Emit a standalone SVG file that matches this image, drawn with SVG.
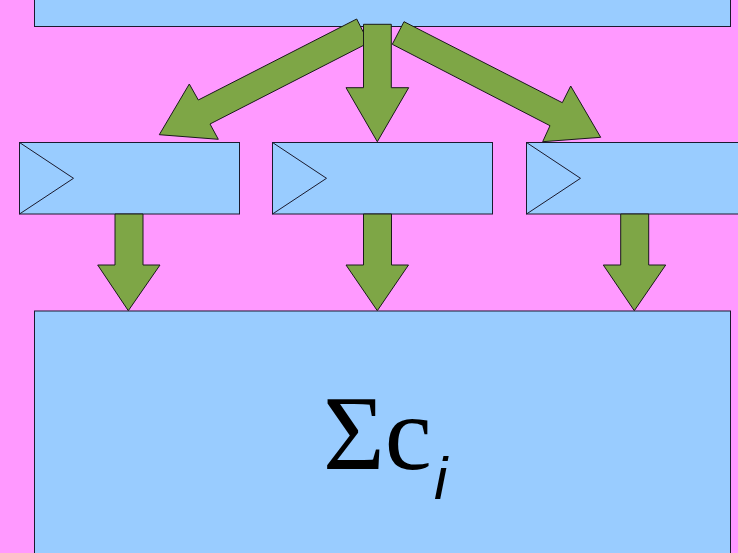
<svg xmlns="http://www.w3.org/2000/svg" width="738" height="553" viewBox="0 0 738 553">
<style>
.box{fill:#99ccff;stroke:#1a1a2e;stroke-width:1}
.tri{fill:none;stroke:#1a1a2e;stroke-width:1}
.arr{fill:#7ea646;stroke:#1a1a1a;stroke-width:1;stroke-linejoin:miter}
.sig{font-family:"Liberation Serif","Times New Roman",serif;fill:#000}
.sub{font-family:"Liberation Sans",Arial,sans-serif;font-style:italic}
</style>
<rect x="0" y="0" width="738" height="553" fill="#ff99ff"/>
<g id="top">
<rect class="box" x="34.5" y="-5" width="696" height="31.5"/>
</g>
<g id="box1">
<rect class="box" x="19.5" y="142.5" width="220" height="71.5"/>
<polyline class="tri" points="19.5,142.5 73.5,178.3 19.5,214"/>
</g>
<g id="box2">
<rect class="box" x="272.5" y="142.5" width="220" height="71.5"/>
<polyline class="tri" points="272.5,142.5 326.5,178.3 272.5,214"/>
</g>
<g id="box3">
<rect class="box" x="526.5" y="142.5" width="220" height="71.5"/>
<polyline class="tri" points="526.5,142.5 580.5,178.3 526.5,214"/>
</g>
<g id="bottom">
<rect class="box" x="34.5" y="311" width="696" height="250"/>
<text class="sig" x="323" y="469" font-size="106">Σc<tspan class="sub" x="434" y="499" font-size="60">i</tspan></text>
</g>
<g id="connectors">
<polygon class="arr" points="356.7,19 368.7,42.7 210,124 218.3,139.3 159.3,134.7 189.3,84 198.3,100"/>
<polygon class="arr" points="363.5,24.3 391.3,24.3 391.3,87.7 408.7,87.7 377.3,141.7 346,87.7 363.5,87.7"/>
<polygon class="arr" points="404,21.7 392.3,44.3 550,125.7 542.7,141.7 600.7,137.3 570.7,86 562.3,102.7"/>
<polygon class="arr" points="115,214 143,214 143,265 160,265 128.3,310.7 97.7,265 115,265"/>
<polygon class="arr" points="363.5,214 391.5,214 391.5,265 408.5,265 377.3,310.7 346,265 363.5,265"/>
<polygon class="arr" points="620.7,214 648.7,214 648.7,265 665.7,265 634.3,310.7 603.3,265 620.7,265"/>
</g>
</svg>
